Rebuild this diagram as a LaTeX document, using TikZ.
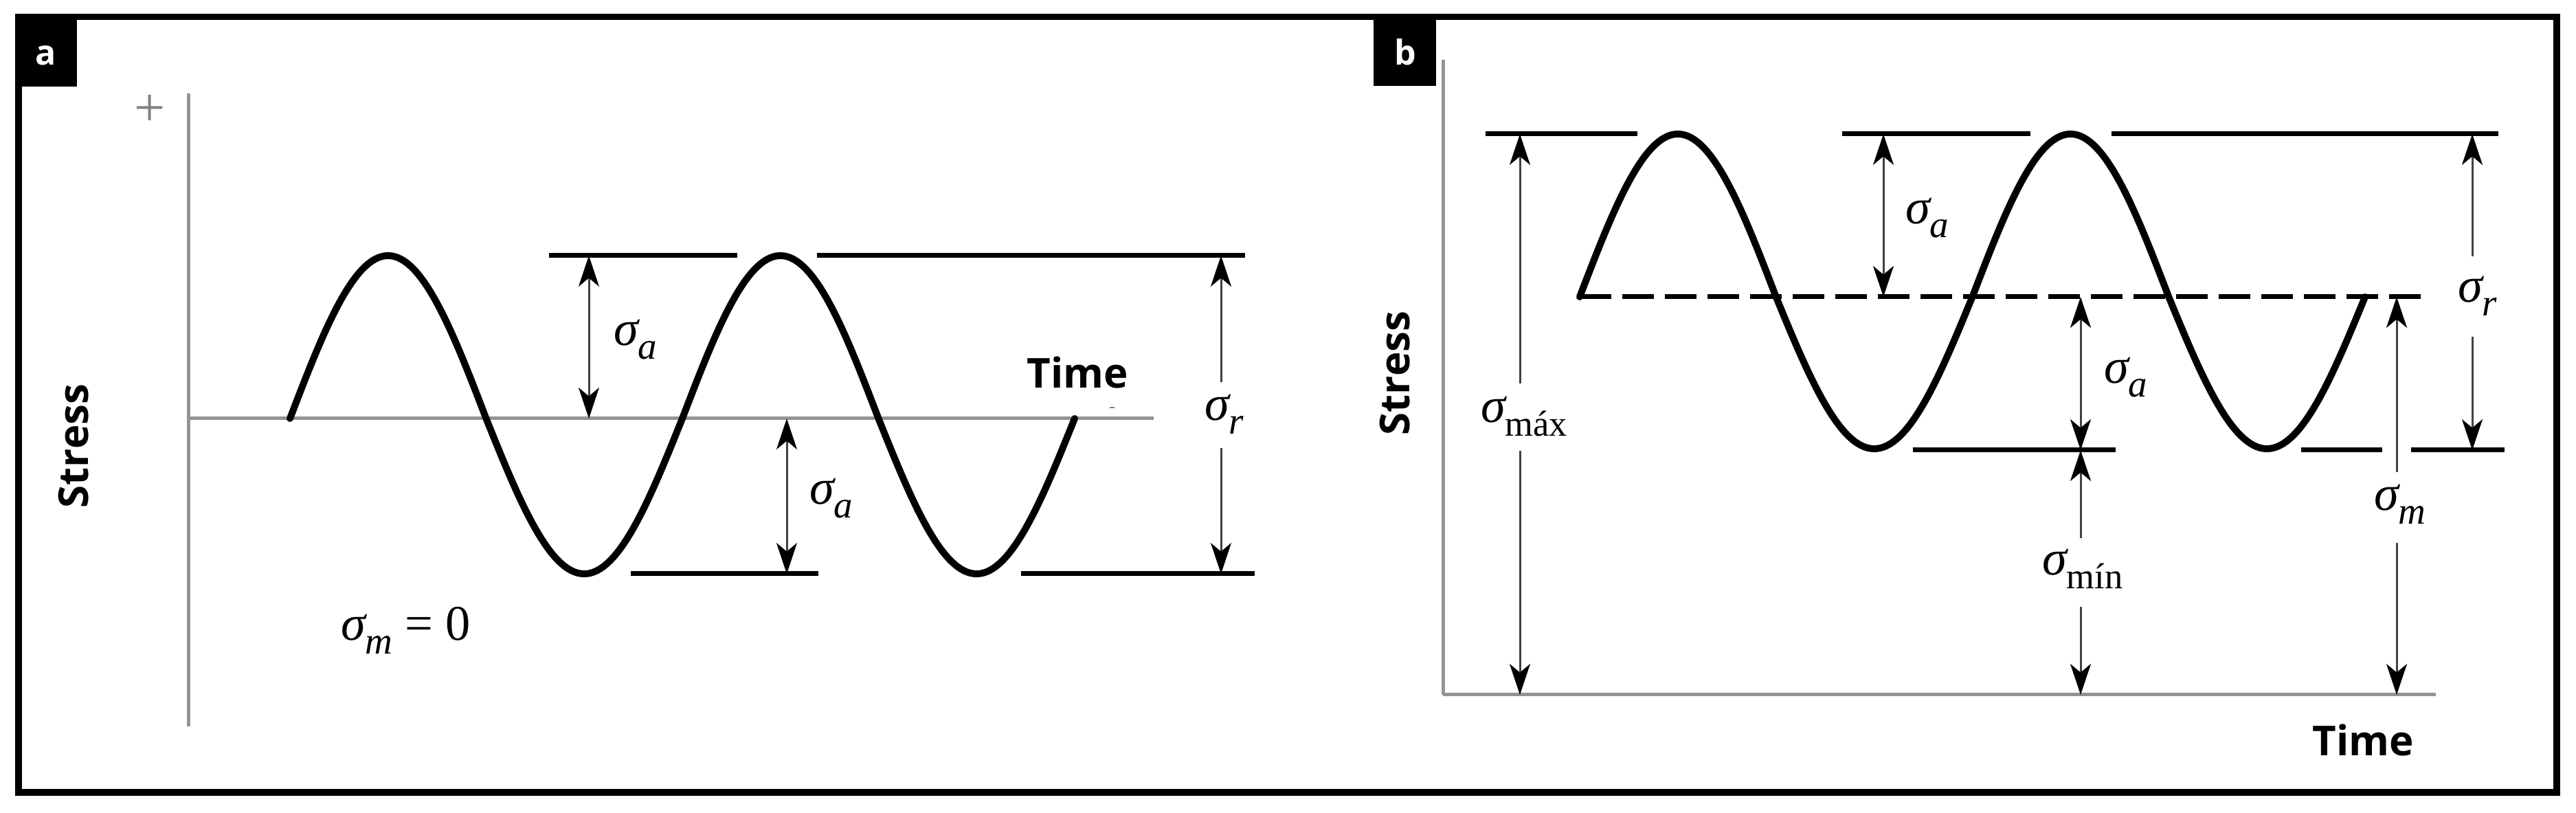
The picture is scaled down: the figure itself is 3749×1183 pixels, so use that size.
\documentclass[tikz,border=0pt]{standalone}
\usepackage{fontspec}
\setmainfont{Liberation Serif}
\newfontfamily\lblfont{Open Sans}
\usetikzlibrary{arrows.meta}
\newcommand{\sgm}[1]{{\fontsize{14.5}{16}\selectfont\itshape σ}\raisebox{-4pt}{\fontsize{11}{12}\selectfont #1}}
\newcommand{\sgu}[1]{{\fontsize{14.5}{16}\selectfont\itshape σ}\raisebox{-4pt}{\fontsize{10.5}{12}\selectfont #1}}
\tikzset{dtip/.tip={Stealth[length=9pt,width=6pt,inset=2.5pt,color=black]}}
\begin{document}
\begin{tikzpicture}[x=0.2pt,y=-0.2pt,
  axis/.style={draw=gray!85, line width=1pt},
  level/.style={draw=black, line width=1.4pt},
  wave/.style={draw=black, line width=2pt, line join=round, line cap=round},
  dim/.style={draw=black!75, line width=0.6pt},
  sig/.style={inner sep=0pt, anchor=base west},
  axlabel/.style={font=\lblfont\bfseries\fontsize{12}{14}\selectfont, inner sep=0pt},
  tagtext/.style={font=\lblfont\bfseries\fontsize{10}{12}\selectfont, text=white, inner sep=0pt, anchor=base}]
\useasboundingbox (0,0) rectangle (3749,1183);
% frame and tags
\draw[line width=1.9pt] (27,24.5) rectangle (3721,1153);
\fill (22,20) rectangle (112,126);
\node[tagtext] (taga) at (67,95) {a};
\fill (1999,24) rectangle (2090,125);
\node[tagtext] (tagb) at (2045,95) {b};

% ================= panel a =================
\draw[axis] (274,136) -- (274,1057);
\draw[axis] (274,609) -- (1679,609);
\node[text=gray, font=\fontsize{16}{18}\selectfont, inner sep=0pt] (plus) at (218,161) {+};
\draw[gray, line width=0.5pt] (1615,593) -- (1622,593);
\draw[level] (799,372) -- (1073,372);
\draw[level] (1189,372) -- (1812,372);
\draw[level] (918,835) -- (1191,835);
\draw[level] (1486,835) -- (1826,835);
\draw[wave] plot[domain=0:720,samples=241] ({422+\x/360*571},{609-(sin(\x)>0 ? 237 : 226)*sin(\x)});
\coordinate (a1t) at (857,372); \coordinate (a1b) at (857,609);
\draw[dim, dtip-dtip] (a1t) -- (a1b);
\coordinate (a2t) at (1145,609); \coordinate (a2b) at (1145,835);
\draw[dim, dtip-dtip] (a2t) -- (a2b);
\coordinate (art) at (1777,372); \coordinate (arm1) at (1777,556);
\coordinate (arm2) at (1777,652); \coordinate (arb) at (1777,835);
\draw[dim,-dtip] (arm1) -- (art);
\draw[dim,-dtip] (arm2) -- (arb);
\node[sig] (la1) at (892,503) {\sgm{\itshape a}};
\node[sig] (la2) at (1177,734) {\sgm{\itshape a}};
\node[sig] (lar) at (1752,612) {\sgm{\itshape r}};
\node[sig] (lam) at (495,932) {\sgm{\itshape m}{\fontsize{14.5}{16}\selectfont\ = 0}};
\node[axlabel, rotate=90] (stressa) at (107,649) {Stress};
\node[axlabel] (timea) at (1568,542) {Time};

% ================= panel b =================
\draw[axis] (2100,87) -- (2100,1011);
\draw[axis] (2100,1011) -- (3545,1011);
\draw[level] (2162,195) -- (2383,195);
\draw[level] (2681,195) -- (2955,195);
\draw[level] (3073,195) -- (3636,195);
\draw[level] (2784,655) -- (3079,655);
\draw[level] (3349,655) -- (3467,655);
\draw[level] (3509,655) -- (3645,655);
\draw[level, dash pattern=on 9.2pt off 3.2pt] (2299,432) -- (3533,432);
\draw[wave] plot[domain=0:720,samples=241] ({2299+\x/360*571.5},{432-(sin(\x)>0 ? 237 : 221)*sin(\x)});
% sigma max
\coordinate (bmt) at (2212,195); \coordinate (bmm1) at (2212,558);
\coordinate (bmm2) at (2212,656); \coordinate (bmb) at (2212,1011);
\draw[dim,-dtip] (bmm1) -- (bmt);
\draw[dim,-dtip] (bmm2) -- (bmb);
% sigma a upper
\coordinate (b1t) at (2741,195); \coordinate (b1b) at (2741,432);
\draw[dim, dtip-dtip] (b1t) -- (b1b);
% sigma a lower
\coordinate (b2t) at (3028,432); \coordinate (b2b) at (3028,655);
\draw[dim, dtip-dtip] (b2t) -- (b2b);
% sigma min
\coordinate (bnt) at (3028,655); \coordinate (bnm1) at (3028,783);
\coordinate (bnm2) at (3028,883); \coordinate (bnb) at (3028,1011);
\draw[dim,-dtip] (bnm1) -- (bnt);
\draw[dim,-dtip] (bnm2) -- (bnb);
% sigma m
\coordinate (bgt) at (3488,432); \coordinate (bgm1) at (3488,687);
\coordinate (bgm2) at (3488,790); \coordinate (bgb) at (3488,1011);
\draw[dim,-dtip] (bgm1) -- (bgt);
\draw[dim,-dtip] (bgm2) -- (bgb);
% sigma r
\coordinate (brt) at (3598,195); \coordinate (brm1) at (3598,373);
\coordinate (brm2) at (3598,490); \coordinate (brb) at (3598,655);
\draw[dim,-dtip] (brm1) -- (brt);
\draw[dim,-dtip] (brm2) -- (brb);
\node[sig] (lbmax) at (2154,615) {\sgu{máx}};
\node[sig] (lb1) at (2772,326) {\sgm{\itshape a}};
\node[sig] (lb2) at (3061,558) {\sgm{\itshape a}};
\node[sig] (lbmin) at (2971,837) {\sgu{mín}};
\node[sig] (lbm) at (3454,743) {\sgm{\itshape m}};
\node[sig] (lbr) at (3576,440) {\sgm{\itshape r}};
\node[axlabel, rotate=90] (stressb) at (2030,543) {Stress};
\node[axlabel] (timeb) at (3439,1077) {Time};
\end{tikzpicture}
\end{document}
